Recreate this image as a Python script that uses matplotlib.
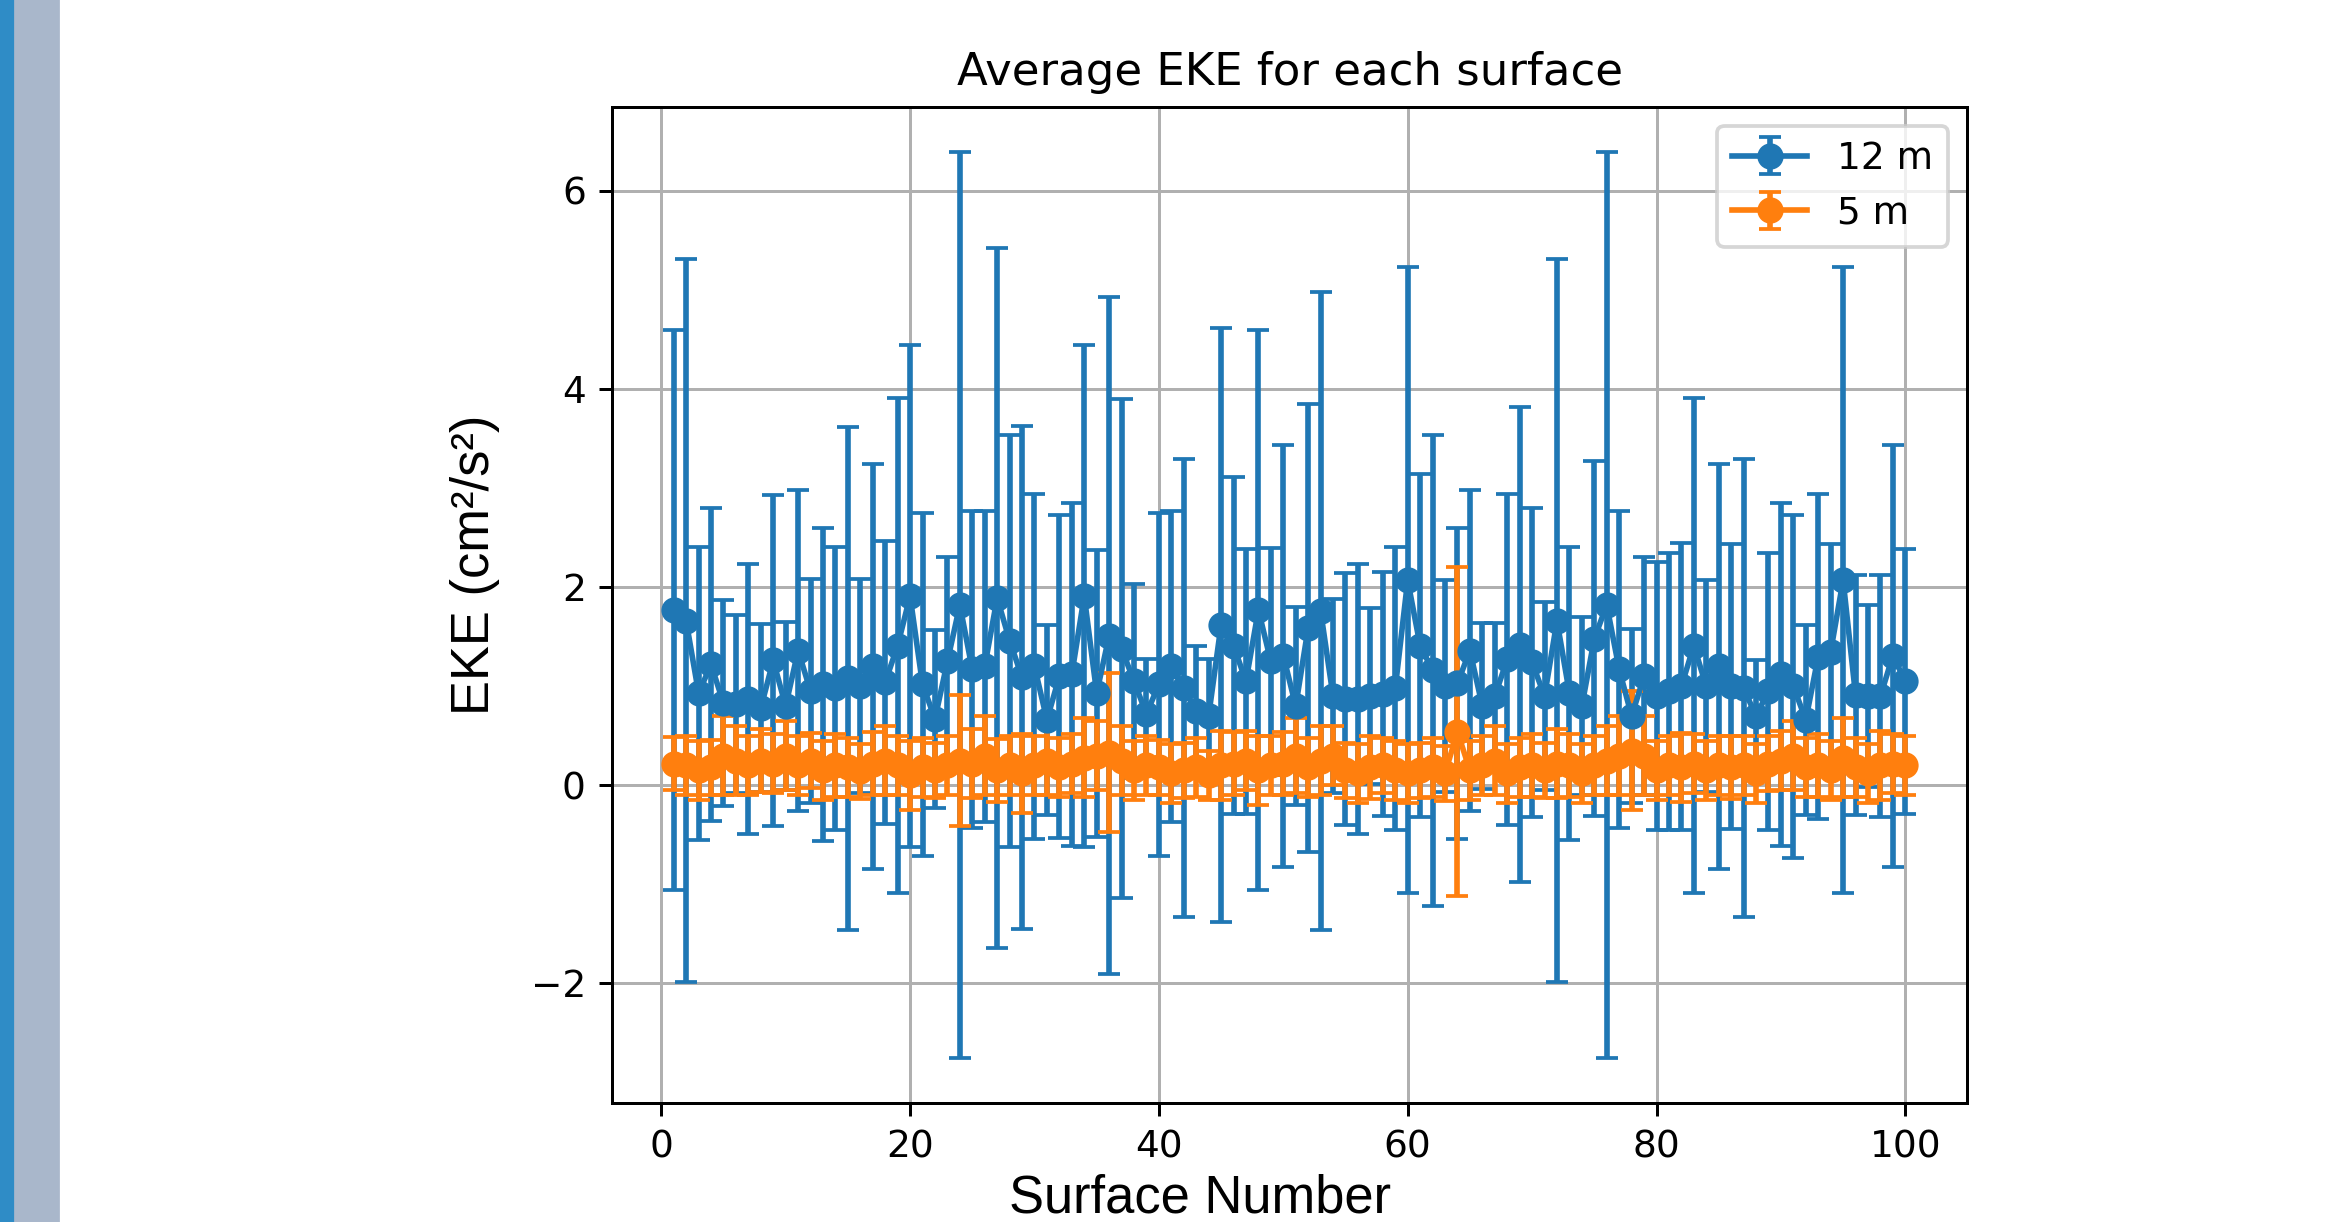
import matplotlib
matplotlib.use("Agg")
import matplotlib.pyplot as plt
from matplotlib.patches import Rectangle
import numpy as np

surface = np.arange(1, 101)

eke_12m = [
    1.77, 1.66, 0.93, 1.22, 0.83, 0.82, 0.87, 0.78, 1.26, 0.80,
    1.36, 0.95, 1.02, 0.98, 1.08, 1.00, 1.20, 1.04, 1.41, 1.91,
    1.02, 0.67, 1.25, 1.82, 1.17, 1.20, 1.89, 1.46, 1.09, 1.20,
    0.66, 1.10, 1.12, 1.91, 0.93, 1.51, 1.38, 1.05, 0.72, 1.02,
    1.20, 0.98, 0.75, 0.70, 1.62, 1.41, 1.05, 1.77, 1.25, 1.31,
    0.80, 1.59, 1.76, 0.90, 0.87, 0.87, 0.90, 0.92, 0.98, 2.07,
    1.41, 1.16, 1.00, 1.03, 1.36, 0.80, 0.90, 1.27, 1.42, 1.24,
    0.90, 1.66, 0.93, 0.80, 1.48, 1.82, 1.17, 0.70, 1.10, 0.90,
    0.95, 1.00, 1.41, 1.00, 1.20, 1.00, 0.98, 0.70, 0.95, 1.12,
    1.00, 0.66, 1.30, 1.35, 2.07, 0.91, 0.90, 0.90, 1.31, 1.05,
]
err_12m = [
    2.83, 3.65, 1.48, 1.58, 1.04, 0.90, 1.36, 0.85, 1.67, 0.85,
    1.62, 1.13, 1.58, 1.43, 2.54, 1.08, 2.04, 1.43, 2.50, 2.53,
    1.73, 0.90, 1.05, 4.57, 1.60, 1.57, 3.53, 2.08, 2.54, 1.74,
    0.96, 1.63, 1.73, 2.53, 1.45, 3.42, 2.52, 0.98, 0.55, 1.73,
    1.57, 2.31, 0.66, 0.57, 3.00, 1.70, 1.34, 2.83, 1.15, 2.13,
    1.00, 2.26, 3.22, 0.98, 1.27, 1.36, 0.89, 1.23, 1.43, 3.16,
    1.73, 2.38, 1.07, 1.57, 1.62, 0.84, 0.74, 1.67, 2.40, 1.56,
    0.95, 3.65, 1.48, 0.90, 1.79, 4.57, 1.60, 0.88, 1.20, 1.35,
    1.40, 1.45, 2.50, 1.07, 2.04, 1.44, 2.31, 0.56, 1.40, 1.73,
    1.73, 0.96, 1.64, 1.09, 3.16, 1.21, 0.92, 1.22, 2.13, 1.34,
]

eke_5m = [
    0.22, 0.20, 0.15, 0.18, 0.30, 0.25, 0.20, 0.25, 0.22, 0.30,
    0.20, 0.25, 0.15, 0.20, 0.18, 0.14, 0.22, 0.25, 0.20, 0.10,
    0.18, 0.15, 0.20, 0.25, 0.22, 0.30, 0.15, 0.20, 0.12, 0.20,
    0.25, 0.18, 0.22, 0.28, 0.30, 0.33, 0.25, 0.15, 0.20, 0.18,
    0.12, 0.15, 0.18, 0.10, 0.20, 0.22, 0.25, 0.15, 0.20, 0.22,
    0.30, 0.18, 0.25, 0.30, 0.15, 0.12, 0.18, 0.20, 0.15, 0.12,
    0.15, 0.18, 0.12, 0.54, 0.15, 0.20, 0.25, 0.12, 0.18, 0.20,
    0.15, 0.22, 0.20, 0.12, 0.20, 0.25, 0.30, 0.35, 0.30, 0.15,
    0.20, 0.18, 0.22, 0.15, 0.20, 0.18, 0.20, 0.12, 0.22, 0.25,
    0.30, 0.18, 0.20, 0.15, 0.28, 0.18, 0.12, 0.20, 0.22, 0.20,
]
err_5m = [
    0.27, 0.30, 0.30, 0.28, 0.40, 0.35, 0.30, 0.32, 0.30, 0.35,
    0.30, 0.28, 0.30, 0.32, 0.30, 0.28, 0.32, 0.35, 0.30, 0.35,
    0.30, 0.28, 0.30, 0.66, 0.35, 0.40, 0.32, 0.30, 0.40, 0.30,
    0.35, 0.30, 0.30, 0.40, 0.35, 0.80, 0.35, 0.30, 0.30, 0.28,
    0.30, 0.28, 0.30, 0.25, 0.35, 0.32, 0.30, 0.35, 0.30, 0.32,
    0.38, 0.30, 0.35, 0.30, 0.28, 0.30, 0.32, 0.28, 0.30, 0.30,
    0.28, 0.30, 0.28, 1.66, 0.30, 0.30, 0.35, 0.30, 0.30, 0.32,
    0.28, 0.35, 0.32, 0.30, 0.30, 0.35, 0.40, 0.60, 0.40, 0.30,
    0.30, 0.35, 0.30, 0.30, 0.30, 0.32, 0.30, 0.30, 0.28, 0.30,
    0.35, 0.30, 0.32, 0.30, 0.40, 0.30, 0.30, 0.35, 0.30, 0.30,
]

label_font = ["Liberation Sans", "DejaVu Sans"]

fig = plt.figure(figsize=(2331 / 270, 1222 / 270), dpi=270)
ax = fig.add_axes([0.2626, 0.0974, 0.5812, 0.8150])

# slide border strips on the left
fig.patches.append(Rectangle((0, 0), 0.0068, 1, transform=fig.transFigure,
                             color="#2f8cc6", zorder=0))
fig.patches.append(Rectangle((0.0068, 0), 0.0180, 1, transform=fig.transFigure,
                             color="#a9b7cb", zorder=0))

ax.errorbar(surface, eke_12m, yerr=err_12m, fmt="-o", capsize=3, label="12 m")
ax.errorbar(surface, eke_5m, yerr=err_5m, fmt="-o", capsize=3, label="5 m")

ax.set_title("Average EKE for each surface")
ax.set_xlabel("Surface Number", family=label_font, fontsize=14)
ax.set_ylabel("EKE (cm²/s²)", family=label_font, fontsize=14)
ax.xaxis.set_label_coords(0.434, -0.071)
ax.yaxis.set_label_coords(-0.083, 0.54)
ax.set_xticks([0, 20, 40, 60, 80, 100])
ax.set_yticks([-2, 0, 2, 4, 6])
ax.grid(True)
ax.legend(loc="upper right")

fig.savefig("out.png", dpi=270)
